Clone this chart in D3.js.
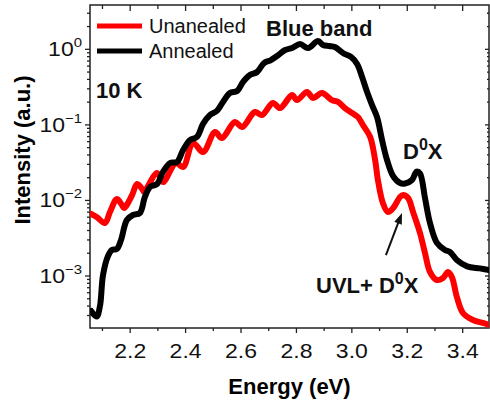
<!DOCTYPE html>
<html><head><meta charset="utf-8">
<script src="https://cdn.jsdelivr.net/npm/d3@7"></script>
<style>body{margin:0;background:#fff} text{font-family:Arial,"Liberation Sans",sans-serif}</style>
</head><body><svg id="c" width="490" height="406"></svg>
<script>
// ---- data ----
const energyUnannealed = [2.059,2.079,2.109,2.127,2.152,2.170,2.178,2.207,2.225,2.246,2.250,2.297,2.318,2.365,2.391,2.427,2.463,2.506,2.531,2.578,2.604,2.650,2.676,2.715,2.741,2.784,2.802,2.838,2.860,2.892,2.928,2.950,2.975,3.001,3.022,3.040,3.066,3.084,3.094,3.112,3.130,3.149,3.174,3.185,3.203,3.221,3.246,3.264,3.282,3.307,3.329,3.347,3.361,3.379,3.401,3.437,3.473,3.495];
const intensityUnannealed = [6.62e-3,6.04e-3,5.03e-3,7.03e-3,1.045e-2,8.71e-3,7.94e-3,1.18e-2,1.65e-2,1.37e-2,1.29e-2,2.31e-2,1.75e-2,3.13e-2,2.77e-2,5.75e-2,4.38e-2,8.05e-2,6.70e-2,0.109,0.0937,0.148,0.135,0.195,0.167,0.248,0.213,0.272,0.227,0.264,0.213,0.201,0.167,0.1435,0.127,0.0996,0.0692,0.0343,0.01865,9.25e-3,7.03e-3,7.94e-3,1.11e-2,1.18e-2,1.077e-2,7.03e-3,3.71e-3,2.01e-3,1.13e-3,8.85e-4,9.41e-4,1.13e-3,9.71e-4,5.28e-4,3.24e-4,2.62e-4,2.39e-4,2.25e-4];
const energyAnnealed = [2.059,2.079,2.091,2.102,2.120,2.134,2.152,2.167,2.188,2.210,2.235,2.253,2.272,2.297,2.318,2.344,2.369,2.391,2.416,2.441,2.463,2.488,2.513,2.535,2.560,2.586,2.607,2.632,2.658,2.683,2.708,2.730,2.759,2.784,2.813,2.842,2.878,2.896,2.918,2.939,2.968,2.997,3.019,3.037,3.055,3.073,3.091,3.109,3.127,3.149,3.174,3.192,3.217,3.234,3.246,3.264,3.282,3.307,3.336,3.354,3.379,3.416,3.462,3.495];
const intensityAnnealed = [3.44e-4,2.90e-4,4.01e-4,1.03e-3,1.84e-3,2.21e-3,2.28e-3,3.00e-3,5.51e-3,6.42e-3,6.82e-3,1.11e-2,1.51e-2,1.65e-2,2.38e-2,3.13e-2,3.23e-2,4.65e-2,6.31e-2,6.92e-2,0.103,0.135,0.153,0.201,0.264,0.281,0.369,0.457,0.501,0.659,0.721,0.815,0.979,1.04,1.175,1.04,1.288,1.14,1.106,1.072,0.894,0.793,0.639,0.430,0.272,0.183,0.127,0.0631,0.0343,0.0210,0.0170,0.01675,0.01865,0.0240,0.0227,0.01077,5.03e-3,2.74e-3,2.21e-3,2.08e-3,1.63e-3,1.34e-3,1.26e-3,1.20e-3];
const seriesNames = ["Unanealed","Annealed"];
const seriesColors = ["#ff0000","#000000"];
const xTicks = [2.2,2.4,2.6,2.8,3.0,3.2,3.4];
const xMinorTicks = [2.1,2.3,2.5,2.7,2.9,3.1,3.3];
const yTickExponents = [-3,-2,-1,0];
const arrowEnergy = [3.123,3.181];
const arrowIntensity = [1.89e-3,6.82e-3];

// ---- layout ----
const L=90,R=489,T=5,B=328;
const svg=d3.select('#c');
const x=d3.scaleLinear().domain([2.055,3.495]).range([L,R]);
const y=d3.scaleLog().domain([2.05e-4,3.86]).range([B,T]);

svg.append('defs').append('clipPath').attr('id','clip').append('rect')
  .attr('x',L).attr('y',T).attr('width',R-L).attr('height',B-T);

// minor y ticks
const yMinor=[];
[-4].concat(yTickExponents).forEach(e=>{for(let k=2;k<=9;k++){const v=k*Math.pow(10,e);if(v>=y.domain()[0]&&v<=y.domain()[1])yMinor.push(v);}});
const ax=svg.append('g').attr('stroke','#222').attr('stroke-width',1.3);
// left (outward)
yTickExponents.forEach(e=>{const yy=y(Math.pow(10,e));ax.append('line').attr('x1',L-5).attr('x2',L).attr('y1',yy).attr('y2',yy);});
yMinor.forEach(v=>{const yy=y(v);ax.append('line').attr('x1',L-3).attr('x2',L).attr('y1',yy).attr('y2',yy);});
// right (inward)
yTickExponents.forEach(e=>{const yy=y(Math.pow(10,e));ax.append('line').attr('x1',R-4).attr('x2',R).attr('y1',yy).attr('y2',yy);});
yMinor.forEach(v=>{const yy=y(v);ax.append('line').attr('x1',R-2).attr('x2',R).attr('y1',yy).attr('y2',yy);});
// bottom (outward) and top (inward)
xTicks.forEach(v=>{const xx=x(v);ax.append('line').attr('x1',xx).attr('x2',xx).attr('y1',B).attr('y2',B+5);ax.append('line').attr('x1',xx).attr('x2',xx).attr('y1',T).attr('y2',T+6);});
xMinorTicks.forEach(v=>{const xx=x(v);ax.append('line').attr('x1',xx).attr('x2',xx).attr('y1',B).attr('y2',B+3);ax.append('line').attr('x1',xx).attr('x2',xx).attr('y1',T).attr('y2',T+4);});
svg.append('rect').attr('x',L).attr('y',T).attr('width',R-L).attr('height',B-T)
  .attr('fill','none').attr('stroke','#222').attr('stroke-width',1.5);

// tick labels (slightly wide glyphs as in the reference)
const SX=1.15;
xTicks.forEach(v=>{svg.append('text').attr('transform','translate('+x(v)+',358) scale('+SX+',1)').attr('text-anchor','middle')
  .attr('font-size',20).attr('fill','#111').text(d3.format('.1f')(v));});
yTickExponents.forEach(e=>{const t=svg.append('text').attr('transform','translate(82,'+(y(Math.pow(10,e))+7)+') scale('+SX+',1)')
  .attr('text-anchor','end').attr('font-size',20).attr('fill','#111');
  t.append('tspan').text('10');
  t.append('tspan').attr('dy',-9).attr('font-size',13).text(e===0?'0':'\u2212'+(-e));});

// axis titles
svg.append('text').attr('x',(L+R)/2).attr('y',394).attr('text-anchor','middle')
  .attr('font-size',22).attr('font-weight','bold').text('Energy (eV)');
svg.append('text').attr('transform','translate(30,150) rotate(-90)').attr('text-anchor','middle')
  .attr('font-size',22).attr('font-weight','bold').text('Intensity (a.u.)');

// curves
const line=d3.line().x(d=>x(d[0])).y(d=>y(d[1])).curve(d3.curveCatmullRom.alpha(0.5));
const series=[d3.zip(energyUnannealed,intensityUnannealed),d3.zip(energyAnnealed,intensityAnnealed)];
const plot=svg.append('g').attr('clip-path','url(#clip)');
series.forEach((s,i)=>{plot.append('path').attr('d',line(s)).attr('fill','none')
  .attr('stroke',seriesColors[i]).attr('stroke-width',6).attr('stroke-linejoin','round').attr('stroke-linecap','round');});

// legend
seriesNames.forEach((n,i)=>{const yy=26+i*25;
  svg.append('line').attr('x1',97).attr('x2',142).attr('y1',yy).attr('y2',yy).attr('stroke',seriesColors[i]).attr('stroke-width',5);
  svg.append('text').attr('x',149).attr('y',yy+7).attr('font-size',20).attr('fill','#111').text(n);});

// annotations: parts = [text, fontSize, dy]
const ann=(tx,ty,parts)=>{const t=svg.append('text').attr('x',tx).attr('y',ty).attr('font-weight','bold').attr('fill','#111');
  parts.forEach(p=>{t.append('tspan').attr('font-size',p[1]).attr('dy',p[2]).text(p[0]);});};
ann(96,98,[['10 K',22,0]]);
ann(266,36,[['Blue band',22,0]]);
ann(403,159,[['D',22,0],['0',16,-9],['X',22,9]]);
ann(316,293,[['UVL+ D',22,0],['0',16,-9],['X',22,9]]);
// arrow
const ax0=x(arrowEnergy[0]),ay0=y(arrowIntensity[0]),ax1=x(arrowEnergy[1]),ay1=y(arrowIntensity[1]);
const ang=Math.atan2(ay1-ay0,ax1-ax0);
svg.append('line').attr('x1',ax0).attr('y1',ay0).attr('x2',ax1-8*Math.cos(ang)).attr('y2',ay1-8*Math.sin(ang)).attr('stroke','#111').attr('stroke-width',2);
const hl=11,hw=4;
const p=[[ax1,ay1],[ax1-hl*Math.cos(ang)+hw*Math.sin(ang),ay1-hl*Math.sin(ang)-hw*Math.cos(ang)],[ax1-hl*Math.cos(ang)-hw*Math.sin(ang),ay1-hl*Math.sin(ang)+hw*Math.cos(ang)]];
svg.append('path').attr('d','M'+p.map(q=>q.join(',')).join('L')+'Z').attr('fill','#111');
</script></body></html>
